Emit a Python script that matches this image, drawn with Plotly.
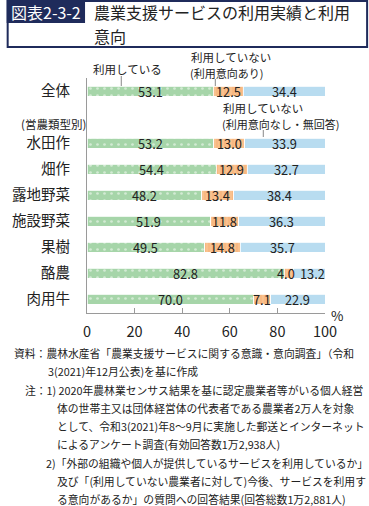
import plotly.graph_objects as go

categories = ["全体", "水田作", "畑作", "露地野菜", "施設野菜", "果樹", "酪農", "肉用牛"]
positions = [0, 2, 3, 4, 5, 6, 7, 8]
using = [53.1, 53.2, 54.4, 48.2, 51.9, 49.5, 82.8, 70.0]
intend = [12.5, 13.0, 12.9, 13.4, 11.8, 14.8, 4.0, 7.1]
not_using = [34.4, 33.9, 32.7, 38.4, 36.3, 35.7, 13.2, 22.9]
x_ticks = [0, 20, 40, 60, 80, 100]

FONT = "Noto Sans CJK JP"
W, H = 369, 506
L, R, T, B = 82, 325, 78, 313


def px(x):
    return (x - L) / (R - L)


def py(y):
    return (B - y) / (B - T)


fig = go.Figure()
series = [
    (using, dict(color="#a6d5a9", pattern=dict(shape=".", fgcolor="#ffffff", bgcolor="#a6d5a9", size=7, solidity=0.12))),
    (intend, dict(color="#f8bb80", pattern=dict(shape="|", fgcolor="#f3a262", bgcolor="#f9c18e", size=4, solidity=0.3))),
    (not_using, dict(color="#b8dcf0")),
]
for vals, mk in series:
    mk["line"] = dict(color="#ffffff", width=0.8)
    fig.add_trace(go.Bar(
        y=positions, x=vals, orientation="h", marker=mk,
        width=0.4, showlegend=False, hoverinfo="skip",
    ))

fig.update_layout(
    barmode="stack", width=W, height=H,
    margin=dict(l=L, r=W - R, t=T, b=H - B, pad=0),
    paper_bgcolor="white", plot_bgcolor="white",
    font=dict(family=FONT, color="#222222"),
    xaxis=dict(range=[0, 100], tickvals=x_ticks, showgrid=False, zeroline=False,
               showline=True, linecolor="#9a9a9a", linewidth=1,
               ticks="inside", ticklen=5, tickcolor="#9a9a9a",
               tickfont=dict(size=14.5, family=FONT, color="#222222"),
               ticklabelstandoff=6),
    yaxis=dict(range=[8.53, -0.51], tickvals=positions, ticktext=categories,
               showgrid=False, zeroline=False, showline=True, linecolor="#9a9a9a",
               linewidth=1, ticks="", tickfont=dict(size=14.5, family=FONT, color="#222222"),
               ticklabelstandoff=13),
)

shapes = []
# title box
shapes.append(dict(type="rect", xref="paper", yref="paper", x0=px(1), x1=px(368), y0=py(1), y1=py(47),
                   line=dict(color="#1f2b5b", width=2), fillcolor="rgba(0,0,0,0)", layer="above"))
shapes.append(dict(type="rect", xref="paper", yref="paper", x0=px(0), x1=px(80), y0=py(0), y1=py(23),
                   line=dict(width=0), fillcolor="#1f2b5b", layer="above"))
# leader lines
for (lx, y0, y1) in [(117, 76, 86), (213, 79, 86), (262, 130, 137)]:
    shapes.append(dict(type="line", xref="paper", yref="paper", x0=px(lx), x1=px(lx), y0=py(y0), y1=py(y1),
                       line=dict(color="#888888", width=1)))
fig.update_layout(shapes=shapes)

ann = []


def add(text, x, y, size, xanchor="left", color="#222222"):
    ann.append(dict(text=text, x=px(x), y=py(y), xref="paper", yref="paper", xanchor=xanchor,
                    yanchor="middle", showarrow=False, font=dict(family=FONT, size=size, color=color)))


# value labels at segment centres
for i, pos in enumerate(positions):
    segs = [using[i], intend[i], not_using[i]]
    start = 0.0
    for k, v in enumerate(segs):
        shift = 0
        if v < 5:
            shift = -3
        elif k == 2 and segs[1] < 5:
            shift = 3
        ann.append(dict(text=f"{v:.1f}", x=start + v / 2, y=pos, xref="x", yref="y",
                        showarrow=False, xshift=shift,
                        font=dict(family=FONT, size=12.8, color="#222222")))
        start += v

add("図表2-3-2", 2, 12, 16, color="#ffffff")
add("農業支援サービスの利用実績と利用", 87, 12, 16)
add("意向", 87, 36, 16)
add("利用している", 123, 69, 11.5, xanchor="center")
add("利用していない", 186, 57, 11.5)
add("(利用意向あり)", 185, 73, 11)
add("利用していない", 219, 108, 11.5)
add("(利用意向なし・無回答)", 218, 124, 11)
add("(営農類型別)", 83, 124, 11.5, xanchor="right")
add("%", 329, 315, 13.5)

notes = [
    (5, "資料：農林水産省「農業支援サービスに関する意識・意向調査」（令和"),
    (40, "3(2021)年12月公表)を基に作成"),
    (17, "注：1) 2020年農林業センサス結果を基に認定農業者等がいる個人経営"),
    (49, "体の世帯主又は団体経営体の代表者である農業者2万人を対象"),
    (49, "として、令和3(2021)年8～9月に実施した郵送とインターネット"),
    (49, "によるアンケート調査(有効回答数1万2,938人)"),
    (38, "2)「外部の組織や個人が提供しているサービスを利用しているか」"),
    (49, "及び「(利用していない農業者に対して)今後、サービスを利用す"),
    (49, "る意向があるか」の質問への回答結果(回答総数1万2,881人)"),
]
for i, (x, t) in enumerate(notes):
    add(t, x, 353 + i * 18.3, 10.8)

fig.update_layout(annotations=ann)
fig.write_html("out.html", config={"displayModeBar": False},
               post_script="document.body.style.margin='0';document.body.style.padding='0';")
